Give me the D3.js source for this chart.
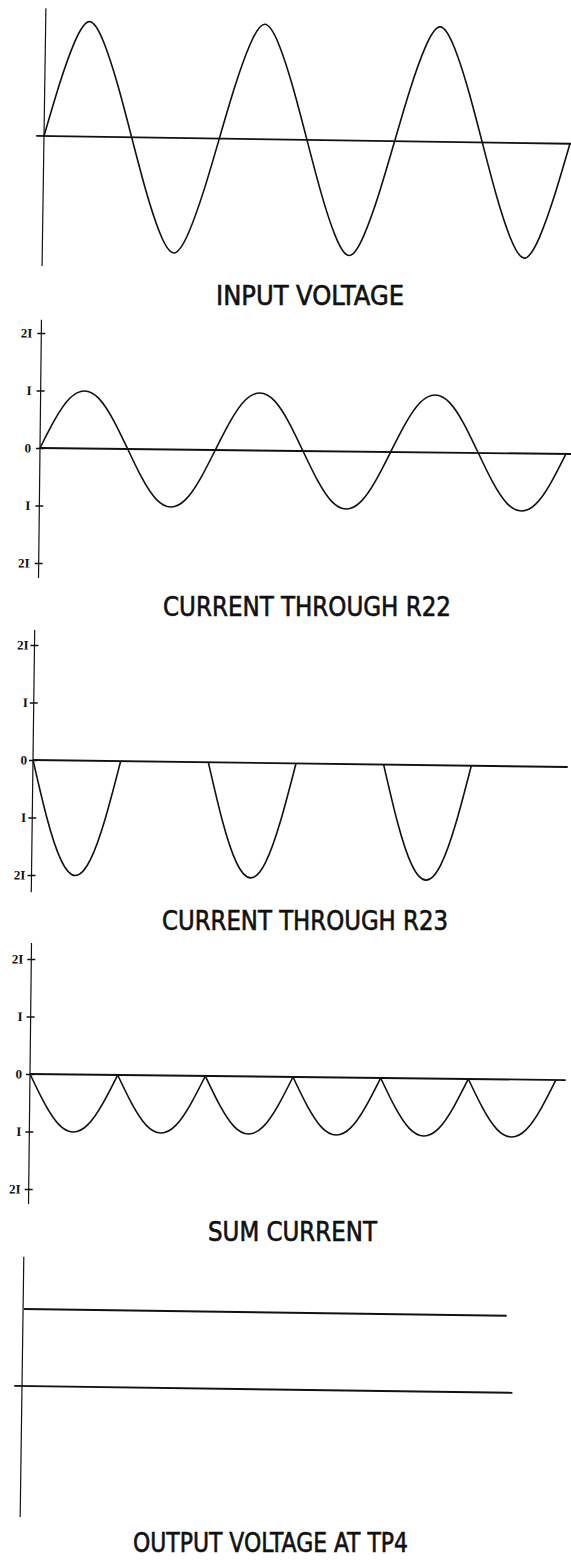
<!DOCTYPE html>
<html>
<head>
<meta charset="utf-8">
<script src="https://cdn.jsdelivr.net/npm/d3@7"></script>
<style>
  body { margin: 0; background: #fff; }
</style>
</head>
<body>
<svg id="chart" width="571" height="1560"></svg>
<script>
// phase of the mains cycle, degrees (3 full cycles, 30 deg steps)
const phase = [0, 30, 60, 90, 120, 150, 180, 210, 240, 270, 300, 330,
               360, 390, 420, 450, 480, 510, 540, 570, 600, 630, 660, 690,
               720, 750, 780, 810, 840, 870, 900, 930, 960, 990, 1020, 1050, 1080];

// input voltage, relative to peak
const inputVoltage = [0, 0.45, 0.82, 1, 0.82, 0.45, 0, -0.45, -0.82, -1, -0.82, -0.45,
                      0, 0.45, 0.82, 1, 0.82, 0.45, 0, -0.45, -0.82, -1, -0.82, -0.45,
                      0, 0.45, 0.82, 1, 0.82, 0.45, 0, -0.45, -0.82, -1, -0.82, -0.45, 0];

// currents in units of I
const currentR22 = [0, 0.5, 0.87, 1, 0.87, 0.5, 0, -0.5, -0.87, -1, -0.87, -0.5,
                    0, 0.5, 0.87, 1, 0.87, 0.5, 0, -0.5, -0.87, -1, -0.87, -0.5,
                    0, 0.5, 0.87, 1, 0.87, 0.5, 0, -0.5, -0.87, -1, -0.87, -0.5, 0];

const currentR23 = [0, -1, -1.73, -2, -1.73, -1, 0, 0, 0, 0, 0, 0,
                    0, -1, -1.73, -2, -1.73, -1, 0, 0, 0, 0, 0, 0,
                    0, -1, -1.73, -2, -1.73, -1, 0, 0, 0, 0, 0, 0, 0];

const sumCurrent = [0, -0.5, -0.87, -1, -0.87, -0.5, 0, -0.5, -0.87, -1, -0.87, -0.5,
                    0, -0.5, -0.87, -1, -0.87, -0.5, 0, -0.5, -0.87, -1, -0.87, -0.5,
                    0, -0.5, -0.87, -1, -0.87, -0.5, 0, -0.5, -0.87, -1, -0.87, -0.5, 0];

// output at TP4 is flat dc
const outputPhase = [2, 993];
const outputVoltage = [1, 1];

const tickValues = [2, 1, 0, -1, -2];
const tickLabels = ["2I", "I", "0", "I", "2I"];

const titles = ["INPUT VOLTAGE", "CURRENT THROUGH R22", "CURRENT THROUGH R23",
                "SUM CURRENT", "OUTPUT VOLTAGE AT TP4"];

// layout of each panel (scan is slightly tilted, hence the rotate)
const panels = [
    {ox: 44, oy: 136, tilt: 0.85, yMax: 1, yPx: 115, axis: [1.11, -1.13], base: [-16, 1083], ticks: false, pad: 0, title: [216, 404, 305]},
    {ox: 40, oy: 448, tilt: 0.65, yMax: 2, yPx: 115, axis: [2.23, -2.26], base: [0, 1092], ticks: true, pad: 5, title: [163, 451, 616]},
    {ox: 33, oy: 760, tilt: 0.75, yMax: 2, yPx: 115, axis: [2.26, -2.30], base: [0, 1098], ticks: true, pad: 2, title: [162, 448, 930]},
    {ox: 30, oy: 1074, tilt: 0.65, yMax: 2, yPx: 115, axis: [2.28, -2.26], base: [0, 1100], ticks: true, pad: 4, title: [208, 377, 1241]},
    {ox: 22, oy: 1386, tilt: 0.8, yMax: 1, yPx: 77, axis: [1.68, -1.70], base: [-16, 1007], ticks: false, pad: 0, title: [133, 408, 1552]}
];

const svg = d3.select("#chart");
const ink = "#111";

const x = d3.scaleLinear().domain([0, 1080]).range([0, 526]);

panels.forEach((p, i) => {
    let y = d3.scaleLinear().domain([-p.yMax, p.yMax]).range([p.yPx, -p.yPx]);
    let g = svg.append("g")
        .attr("transform", `translate(${p.ox},${p.oy}) rotate(${p.tilt})`);

    // vertical axis line
    g.append("line")
        .attr("x1", 0).attr("x2", 0)
        .attr("y1", y(p.axis[0])).attr("y2", y(p.axis[1]))
        .attr("stroke", ink).attr("stroke-width", 1.2);

    // ticks as small crosses with labels
    if (p.ticks) {
        let ax = g.append("g")
            .call(d3.axisLeft(y).tickValues(tickValues)
                .tickFormat((d, k) => tickLabels[k])
                .tickSize(4).tickPadding(p.pad));
        ax.select(".domain").remove();
        ax.selectAll(".tick line")
            .attr("x1", 4).attr("x2", -4)
            .attr("stroke", ink).attr("stroke-width", 1.4);
        ax.selectAll(".tick text")
            .attr("fill", ink)
            .style("font-family", "'Liberation Serif', 'DejaVu Serif', serif")
            .style("font-weight", "bold")
            .style("font-size", "13px");
    }

    // zero line
    g.append("line")
        .attr("x1", x(p.base[0])).attr("x2", x(p.base[1]))
        .attr("y1", y(0)).attr("y2", y(0))
        .attr("stroke", ink).attr("stroke-width", 1.9);

    let line = d3.line()
        .x(d => x(d[0]))
        .y(d => y(d[1]))
        .curve(d3.curveNatural);

    let segments = [];
    if (i === 0) segments = [phase.map((t, k) => [t, inputVoltage[k]])];
    if (i === 1) segments = [phase.map((t, k) => [t, currentR22[k]])];
    if (i === 2 || i === 3) {
        let vals = i === 2 ? currentR23 : sumCurrent;
        // one lobe per half cycle
        segments = d3.range(6)
            .map(k => d3.range(6 * k, 6 * k + 7).map(j => [phase[j], vals[j]]))
            .filter(seg => seg.some(d => d[1] !== 0));
    }
    if (i === 4) {
        segments = [outputPhase.map((t, k) => [t, outputVoltage[k]])];
        line.curve(d3.curveLinear);
    }

    g.selectAll("path.trace")
        .data(segments)
        .enter()
        .append("path")
        .attr("class", "trace")
        .attr("fill", "none")
        .attr("stroke", ink)
        .attr("stroke-width", i === 4 ? 1.9 : 1.6)
        .attr("d", line);

    // caption under the panel
    svg.append("text")
        .attr("x", p.title[0])
        .attr("y", p.title[2])
        .attr("textLength", p.title[1] - p.title[0])
        .attr("lengthAdjust", "spacingAndGlyphs")
        .attr("fill", ink)
        .attr("stroke", ink)
        .attr("stroke-width", 0.6)
        .style("font-family", "'DejaVu Sans Condensed', 'Liberation Sans Narrow', sans-serif")
        .style("font-size", "27px")
        .text(titles[i]);
});
</script>
</body>
</html>
